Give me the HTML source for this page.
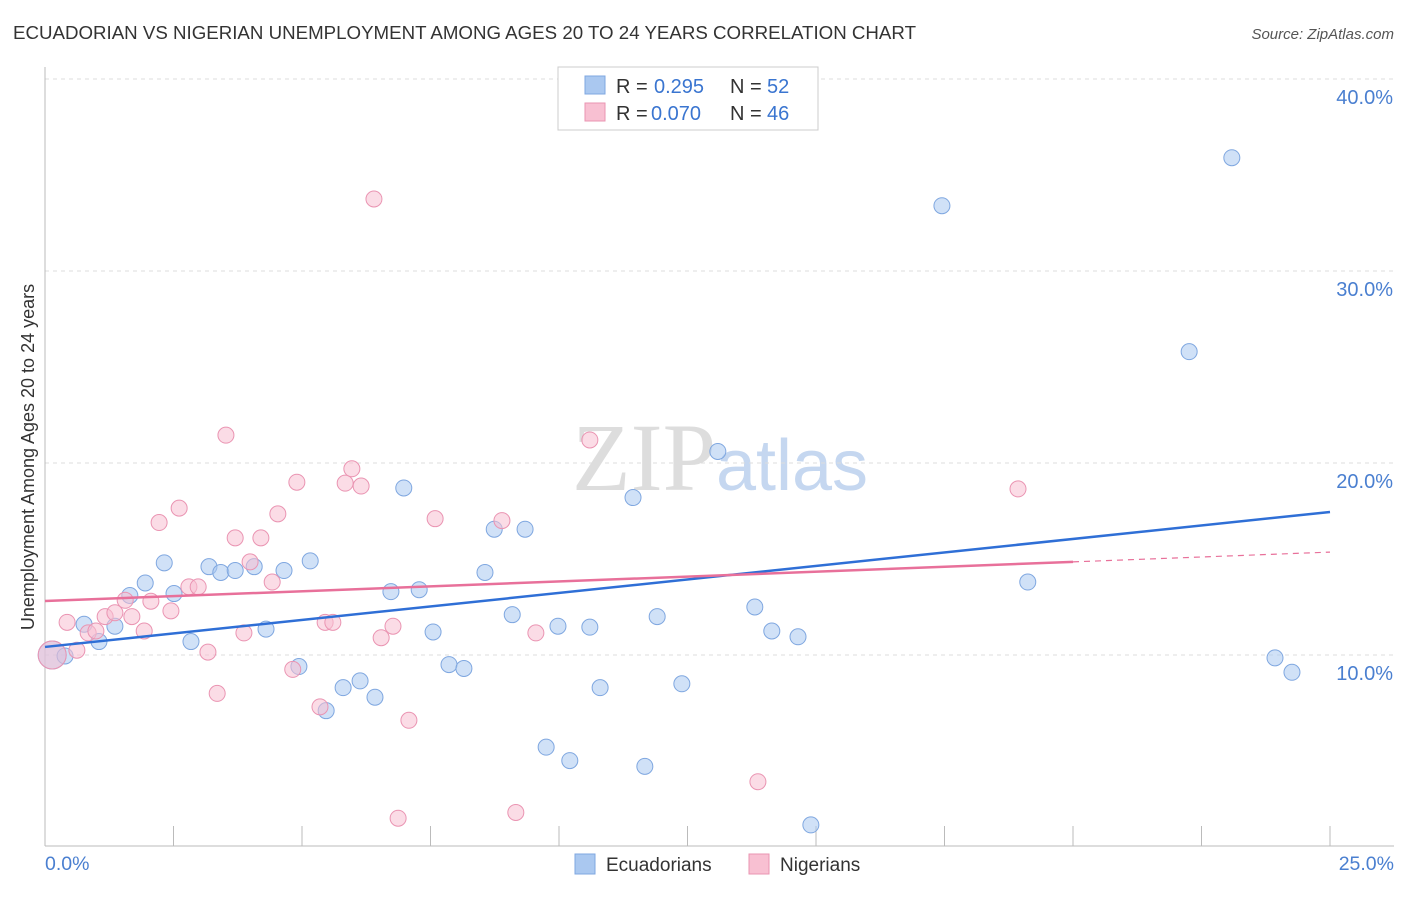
<!DOCTYPE html>
<html><head><meta charset="utf-8"><style>
body{margin:0;background:#fff;font-family:"Liberation Sans",sans-serif;}
</style></head><body>
<svg id="chart" width="1406" height="892" xmlns="http://www.w3.org/2000/svg" font-family="Liberation Sans, sans-serif">
<text x="13" y="39" font-size="18" fill="#333" textLength="903" lengthAdjust="spacingAndGlyphs">ECUADORIAN VS NIGERIAN UNEMPLOYMENT AMONG AGES 20 TO 24 YEARS CORRELATION CHART</text>
<text x="1394" y="39" font-size="15" fill="#555" text-anchor="end" font-style="italic">Source: ZipAtlas.com</text>
<text x="720" y="490" font-size="96" text-anchor="middle" fill="#ddd" font-family="Liberation Serif, serif">ZIP<tspan fill="#c5d7f0" font-family="Liberation Sans, sans-serif" font-size="72">atlas</tspan></text>
<text transform="translate(34,457) rotate(-90)" font-size="18" fill="#333" text-anchor="middle">Unemployment Among Ages 20 to 24 years</text>
<g id="grid"></g><g id="marks"></g>
<g>
<rect x="558" y="67" width="260" height="63" fill="#fff" stroke="#ccc"/>
<rect x="585" y="76" width="20" height="18" fill="#aac8f0" stroke="#7fa7e0"/>
<rect x="585" y="103" width="20" height="18" fill="#f8c0d2" stroke="#ea94b2"/>
<text x="616" y="93" font-size="20" fill="#333">R =</text>
<text x="654" y="93" font-size="20" fill="#3a75d0">0.295</text>
<text x="730" y="93" font-size="20" fill="#333">N =</text>
<text x="767" y="93" font-size="20" fill="#3a75d0">52</text>
<text x="616" y="120" font-size="20" fill="#333">R =</text>
<text x="651" y="120" font-size="20" fill="#3a75d0">0.070</text>
<text x="730" y="120" font-size="20" fill="#333">N =</text>
<text x="767" y="120" font-size="20" fill="#3a75d0">46</text>
</g>
<g>
<rect x="575" y="854" width="20" height="20" fill="#aac8f0" stroke="#7fa7e0"/>
<text x="606" y="871" font-size="19" fill="#333">Ecuadorians</text>
<rect x="749" y="854" width="20" height="20" fill="#f8c0d2" stroke="#ea94b2"/>
<text x="780" y="871" font-size="19" fill="#333">Nigerians</text>
</g>
</svg>
<script>
const yTicks=[10,20,30,40];
const yTickLabels=["10.0%","20.0%","30.0%","40.0%"];
const xEndLabels=["0.0%","25.0%"];
const blueX=[0.14,0.39,0.76,1.05,1.36,1.65,1.95,2.32,2.51,2.84,3.19,3.42,3.70,4.07,4.30,4.65,4.94,5.16,5.47,5.80,6.13,6.42,6.73,6.98,7.28,7.55,7.86,8.15,8.56,8.74,9.09,9.34,9.75,9.98,10.21,10.60,10.80,11.44,11.67,11.91,12.39,13.09,13.81,14.14,14.65,14.90,17.45,19.12,22.26,23.09,23.93,24.26];
const blueY=[10.0,9.95,11.6,10.7,11.5,13.1,13.75,14.8,13.2,10.7,14.6,14.3,14.4,14.6,11.35,14.4,9.4,14.9,7.1,8.3,8.65,7.8,13.3,18.7,13.4,11.2,9.5,9.3,14.3,16.55,12.1,16.55,5.2,11.5,4.5,11.45,8.3,18.2,4.2,12.0,8.5,20.6,12.5,11.25,10.95,1.15,33.4,13.8,25.8,35.9,9.85,9.1];
const pinkX=[0.14,0.43,0.62,0.84,0.99,1.17,1.36,1.56,1.69,1.93,2.06,2.22,2.45,2.61,2.80,2.98,3.17,3.35,3.52,3.70,3.87,3.99,4.20,4.42,4.53,4.82,4.90,5.35,5.45,5.60,5.84,5.97,6.15,6.40,6.54,6.77,6.87,7.08,7.59,8.89,9.16,9.55,10.60,13.87,18.93];
const pinkY=[10.0,11.7,10.25,11.15,11.25,12.0,12.2,12.85,12.0,11.25,12.8,16.9,12.3,17.65,13.55,13.55,10.15,8.0,21.45,16.1,11.15,14.85,16.1,13.8,17.35,9.25,19.0,7.3,11.7,11.7,18.95,19.7,18.8,33.75,10.9,11.5,1.5,6.6,17.1,17.0,1.8,11.15,21.2,3.4,18.65];
const blueTrend=[10.42,17.45];
const pinkTrend=[12.81,15.36];
const pinkSolidEnd=20;
const NS="http://www.w3.org/2000/svg";
const sx=v=>45+v*(1285/25);
const sy=v=>847-v*19.2;
const grid=document.getElementById('grid'),marks=document.getElementById('marks');
function mk(tag,attrs,parent){const e=document.createElementNS(NS,tag);for(const k in attrs)e.setAttribute(k,attrs[k]);parent.appendChild(e);return e;}
yTicks.forEach((t,i)=>{
 const l=mk('line',{x1:45,x2:1394,y1:sy(t),y2:sy(t),stroke:'#ddd','stroke-dasharray':'4,4'},grid);
 
 
 const tx=mk('text',{x:1393,y:sy(t)+25,'font-size':20,fill:'#4a7fd0','text-anchor':'end'},grid);
 tx.textContent=yTickLabels[i];
 
 
});
const ax=mk('line',{x1:45,x2:45,y1:67,y2:846,stroke:'#bbb'},grid);


const bx=mk('line',{x1:45,x2:1394,y1:846,y2:846,stroke:'#bbb'},grid);


for(let i=0;i<=10;i++){const x=sx(i*2.5);const t=mk('line',{x1:x,x2:x,y1:826,y2:846,stroke:'#bbb'},grid);
 
 }
[[0,'start',45],[25,'end',1394]].forEach((d,i)=>{const t=mk('text',{x:d[2],y:870,'font-size':19.5,fill:'#4a7fd0','text-anchor':d[1]},grid);t.textContent=xEndLabels[i];
 
 });
function pts(X,Y,fill,stroke,name){X.forEach((x,i)=>{const r=i===0?14:8;
 const c=mk('circle',{cx:sx(x),cy:sy(Y[i]),r:r,fill:fill,'fill-opacity':0.55,stroke:stroke,'stroke-width':1},marks);
 
 });}
pts(blueX,blueY,'#aac8f0','#7fa7e0','ecuadorian-point');
pts(pinkX,pinkY,'#f8c0d2','#ea94b2','nigerian-point');
const bl=mk('line',{x1:sx(0),y1:sy(blueTrend[0]),x2:sx(25),y2:sy(blueTrend[1]),stroke:'#2f6fd6','stroke-width':2.5},marks);


const pm=pinkTrend[0]+(pinkTrend[1]-pinkTrend[0])*pinkSolidEnd/25;
const pl=mk('line',{x1:sx(0),y1:sy(pinkTrend[0]),x2:sx(pinkSolidEnd),y2:sy(pm),stroke:'#e8709a','stroke-width':2.5},marks);


const pd=mk('line',{x1:sx(pinkSolidEnd),y1:sy(pm),x2:sx(25),y2:sy(pinkTrend[1]),stroke:'#e8709a','stroke-width':1.2,'stroke-dasharray':'6,5'},marks);


</script>
</body></html>
